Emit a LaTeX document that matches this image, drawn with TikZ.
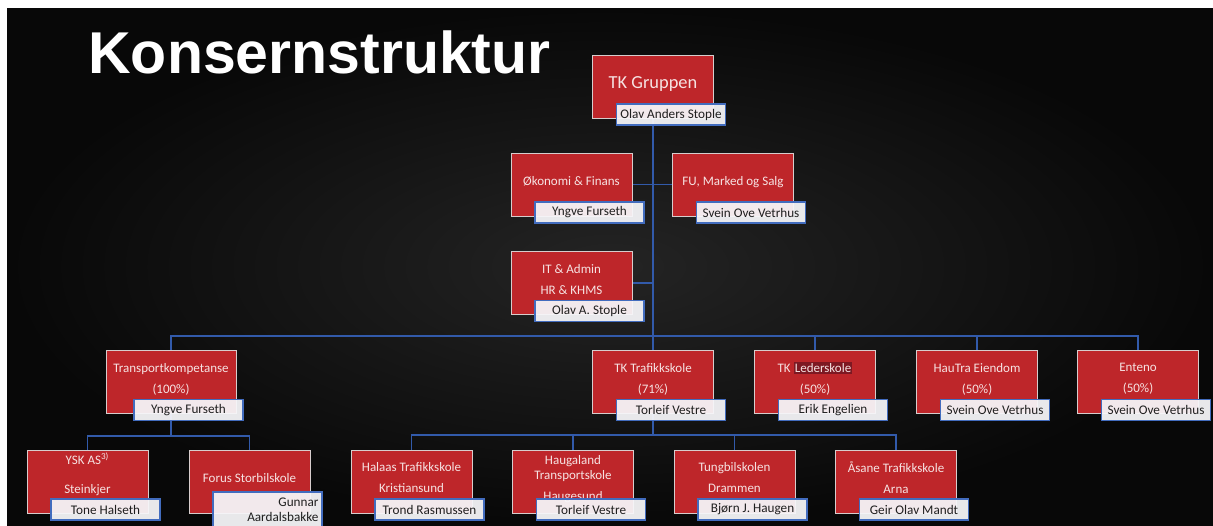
\documentclass[tikz,border=0pt]{standalone}
\usepackage{fontspec}
\setmainfont{Carlito}
\newfontfamily\headfont{Liberation Sans}
\usetikzlibrary{calc,positioning}
\definecolor{unitred}{RGB}{190,38,42}
\definecolor{unitbdr}{RGB}{215,205,205}
\definecolor{unittext}{RGB}{246,226,226}
\definecolor{namefill}{RGB}{246,246,249}
\definecolor{namebdr}{RGB}{66,108,190}
\definecolor{linkblue}{RGB}{50,90,170}
\definecolor{bgmid}{RGB}{36,36,36}
\definecolor{bgedge}{RGB}{8,8,8}
\definecolor{hilite}{RGB}{125,24,34}
\setlength{\fboxsep}{0.6pt}
\pgfdeclarelayer{back}
\pgfsetlayers{back,main}

\begin{document}
\begin{tikzpicture}[x=0.5pt, y=-0.5pt]
\tikzset{
heading/.style = {text=white, font=\headfont\bfseries\fontsize{29.5}{30}\selectfont, inner sep=0pt},
unit/.style = {draw=unitbdr, line width=0.5pt, fill=unitred, text=unittext, align=center, minimum width=60.5pt, minimum height=31.5pt, inner sep=1pt, text depth=4pt, font=\fontsize{6.5}{10.5}\selectfont},
person/.style = {draw=namebdr, line width=0.7pt, fill=namefill, fill opacity=0.94, text opacity=1, text=black!88, minimum width=54.5pt, minimum height=10.5pt, inner sep=0.5pt, font=\fontsize{6.6}{7.5}\selectfont},
conn/.style = {draw=linkblue, line width=0.65pt}
}
\useasboundingbox (0,0) rectangle (1213,525);

     \node [heading, anchor=base west] (heading) at (88,73) {Konsernstruktur};

     % ledelse
     \node [unit, font=\fontsize{9.2}{11}\selectfont] (gruppen) at (653,86.5) {TK Gruppen};
     \node [person] (gruppenname) at ($(gruppen)+(18,28)$) {Olav Anders Stople};
     \node [unit] (okonomi) at (571.5,184.5) {Økonomi \& Finans};
     \node [person] (okonominame) at ($(okonomi)+(18,28)$) {Yngve Furseth};
     \node [unit] (marked) at (733,184.5) {FU, Marked og Salg};
     \node [person] (markedname) at ($(marked)+(18,28)$) {Svein Ove Vetrhus};
     \node [unit] (admin) at (571.5,283) {IT \& Admin\\HR \& KHMS};
     \node [person] (adminname) at ($(admin)+(18,28)$) {Olav A. Stople};

     % selskaper
     \node [unit, minimum width=65pt] (transport) at (171,382) {Transportkompetanse\\(100\%)};
     \node [person] (transportname) at ($(transport)+(17.5,28)$) {Yngve Furseth};
     \node [unit] (trafikk) at (653,382) {TK Trafikkskole\\(71\%)};
     \node [person] (trafikkname) at ($(trafikk)+(18,28)$) {Torleif Vestre};
     \node [unit] (leder) at (815,382) {TK \colorbox{hilite}{Lederskole}\\(50\%)};
     \node [person] (ledername) at ($(leder)+(18,28)$) {Erik Engelien};
     \node [unit] (hautra) at (977,382) {HauTra Eiendom\\(50\%)};
     \node [person] (hautraname) at ($(hautra)+(18,28)$) {Svein Ove Vetrhus};
     \node [unit] (enteno) at (1138,382) {Enteno\\(50\%)};
     \node [person] (entenoname) at ($(enteno)+(18,28)$) {Svein Ove Vetrhus};

     % skoler
     \node [unit, text depth=8.5pt] (ysk) at (87.5,481.5) {YSK AS\textsuperscript{3)}\\[4pt]Steinkjer};
     \node [person] (yskname) at ($(ysk)+(18,28)$) {Tone Halseth};
     \node [unit] (forus) at (249.5,481.5) {Forus Storbilskole};
     \node [person, align=right, text width=51pt, inner xsep=1.5pt, minimum height=17.5pt] (forusname) at ($(forus)+(18,28)$) {Gunnar\\Aardalsbakke};
     \node [unit] (halaas) at (411.5,481.5) {Halaas Trafikkskole\\Kristiansund};
     \node [person] (halaasname) at ($(halaas)+(18,28)$) {Trond Rasmussen};
     \node [unit] (haugaland) at (573,481.5) {Haugaland\\[-3pt]Transportskole\\Haugesund};
     \node [person] (haugalandname) at ($(haugaland)+(18,28)$) {Torleif Vestre};
     \node [unit] (tungbil) at (734.5,481.5) {Tungbilskolen\\Drammen};
     \node [person] (tungbilname) at ($(tungbil)+(18,28)$) {Bjørn J. Haugen};
     \node [unit] (asane) at (896,481.5) {Åsane Trafikkskole\\Arna};
     \node [person] (asanename) at ($(asane)+(18,28)$) {Geir Olav Mandt};

\begin{pgfonlayer}{back}
     \fill [white] (0,0) rectangle (1213,525);
     \shade [inner color=bgmid, outer color=bgedge] (7,8) rectangle (1213,525);
     \coordinate (bus2) at (653,336);
     \coordinate (bus3) at (653,435);
     \coordinate (bus3left) at (171,436);
     \path [conn] (gruppen.south) -- (trafikk.north);
     \path [conn] (okonomi.east) -- (marked.west);
     \path [conn] (admin.east) -- (admin.east -| gruppen);
     \path [conn] (transport.north) |- (bus2) -| (enteno.north);
     \path [conn] (leder.north) -- (leder.north |- bus2);
     \path [conn] (hautra.north) -- (hautra.north |- bus2);
     \path [conn] (trafikk.south) -- (bus3);
     \path [conn] (halaas.north) |- (bus3) -| (asane.north);
     \path [conn] (haugaland.north) -- (haugaland.north |- bus3);
     \path [conn] (tungbil.north) -- (tungbil.north |- bus3);
     \path [conn] (transport.south) -- (bus3left);
     \path [conn] (ysk.north) |- (bus3left) -| (forus.north);
\end{pgfonlayer}
\end{tikzpicture}
\end{document}
